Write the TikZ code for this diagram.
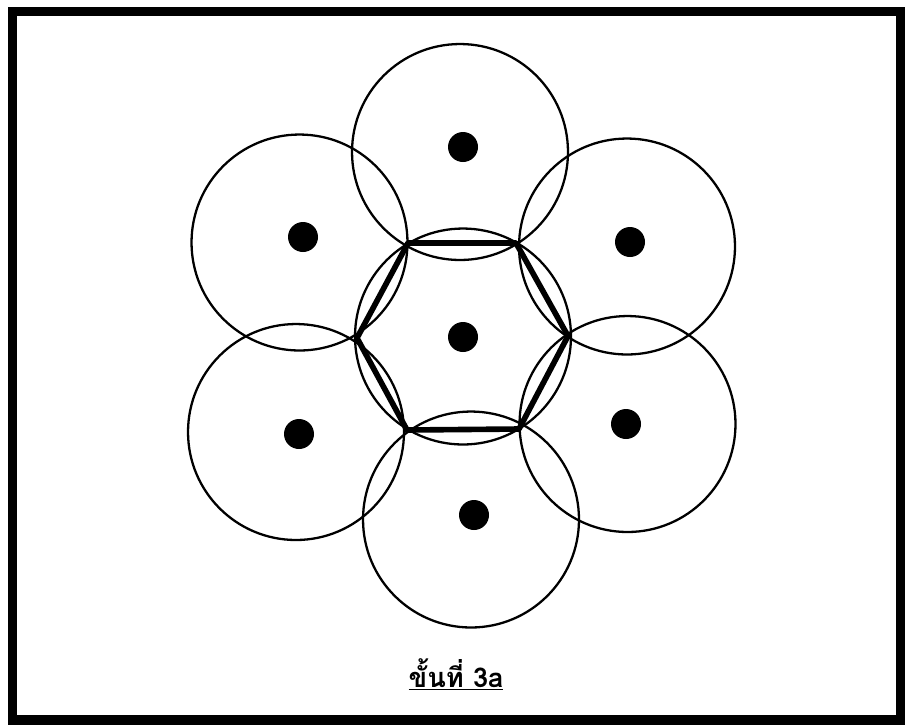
\documentclass[tikz,border=0pt]{standalone}
\usepackage{fontspec}
\newfontfamily\thaifont[Script=Thai]{Loma}
\usepackage{tikz}
\usetikzlibrary{
    positioning,
    calc
}

\begin{document}
\begin{tikzpicture}[
    x=0.02cm,
    y=-0.02cm,
%
    ring/.style={
        draw=black,
        circle,
        line width=1.3pt,
        minimum size=4.32cm,
        inner sep=0pt
    },
%
    dot/.style={
        fill=black,
        circle,
        minimum size=0.6cm,
        inner sep=0pt
    },
%
    hexline/.style={
        line width=3.2pt,
        line join=round
    },
%
    frame/.style={
        draw=black,
        line width=0.19cm
    },
%
    caption/.style={
        font=\thaifont\bfseries\fontsize{15.5}{18}\selectfont,
        inner sep=0pt
    }
]
\useasboundingbox (0,0) rectangle (905,725);
\draw[frame] (12.5,11.5) rectangle (901,720);
%
% The centre ring and its six neighbours.
%
\node[ring] (rc)  at (463,336.5) {};
\node[ring] (rt)  at (460,152)   {};
\node[ring] (rtl) at (299.5,242.5) {};
\node[ring] (rtr) at (627,246.5) {};
\node[ring] (rbl) at (296,432)   {};
\node[ring] (rbr) at (627.5,424) {};
\node[ring] (rb)  at (471,519.5) {};
%
% Centre points.
%
\node[dot] (dc)  at (463,337) {};
\node[dot] (dt)  at (463,147) {};
\node[dot] (dtl) at (303,237) {};
\node[dot] (dtr) at (630,242) {};
\node[dot] (dbl) at (299,434) {};
\node[dot] (dbr) at (626,424) {};
\node[dot] (db)  at (474,515) {};
%
% Hexagon through the points where three rings meet.
%
\coordinate (h1) at (357,338);
\coordinate (h2) at (408,243);
\coordinate (h3) at (516,243);
\coordinate (h4) at (568,336);
\coordinate (h5) at (519,429);
\coordinate (h6) at (407,430);
\draw[hexline] (h1) -- (h2) -- (h3) -- (h4) -- (h5) -- (h6) -- cycle;
%
\node[
    caption,
    anchor=base
] (cap) at (456,687) {\underline{ขั้นที่ 3a}};
%
\end{tikzpicture}
\end{document}
